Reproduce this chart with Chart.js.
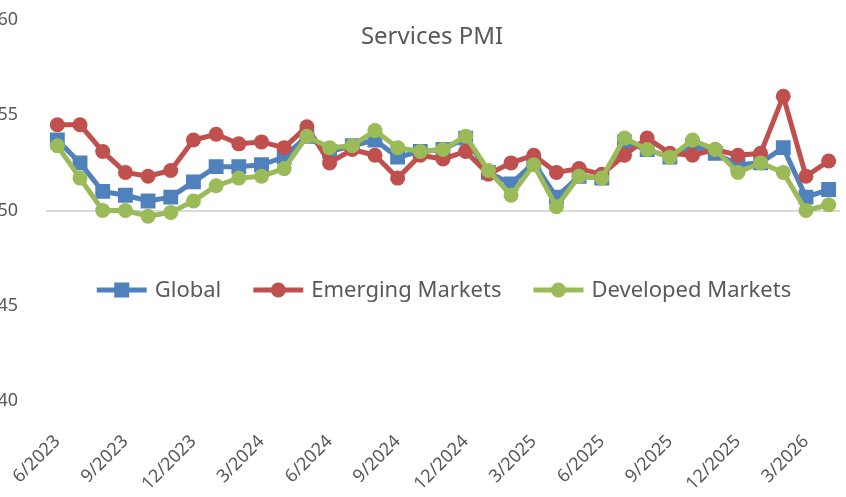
<!DOCTYPE html>
<html>
<head>
<meta charset="utf-8">
<script src="https://cdn.jsdelivr.net/npm/chart.js@4"></script>
<style>
  html, body { margin: 0; padding: 0; background: #fff; overflow: hidden; }
  /* canvas pushed a bit left so the y labels get clipped like the original */
  #wrap { position: absolute; left: -10px; top: 0; width: 856px; height: 497px; }
</style>
</head>
<body>
<div id="wrap"><canvas id="pmiChart"></canvas></div>
<script>
// data
const months = [
  "6/2023", "7/2023", "8/2023", "9/2023", "10/2023", "11/2023", "12/2023",
  "1/2024", "2/2024", "3/2024", "4/2024", "5/2024", "6/2024", "7/2024", "8/2024",
  "9/2024", "10/2024", "11/2024", "12/2024", "1/2025", "2/2025", "3/2025", "4/2025",
  "5/2025", "6/2025", "7/2025", "8/2025", "9/2025", "10/2025", "11/2025", "12/2025",
  "1/2026", "2/2026", "3/2026", "4/2026"
];

const globalPmi = [
  53.7, 52.5, 51.0, 50.8, 50.5, 50.7, 51.5, 52.3, 52.3, 52.4, 52.8, 53.9,
  53.1, 53.4, 53.7, 52.8, 53.1, 53.2, 53.8, 52.0, 51.4, 52.5, 50.7, 51.8,
  51.7, 53.6, 53.2, 52.8, 53.4, 53.0, 52.4, 52.5, 53.3, 50.7, 51.1
];

const emergingPmi = [
  54.5, 54.5, 53.1, 52.0, 51.8, 52.1, 53.7, 54.0, 53.5, 53.6, 53.3, 54.4,
  52.5, 53.2, 52.9, 51.7, 52.9, 52.7, 53.1, 51.9, 52.5, 52.9, 52.0, 52.2,
  51.9, 52.9, 53.8, 53.0, 52.9, 53.2, 52.9, 53.0, 56.0, 51.8, 52.6
];

const developedPmi = [
  53.4, 51.7, 50.0, 50.0, 49.7, 49.9, 50.5, 51.3, 51.7, 51.8, 52.2, 53.9,
  53.3, 53.4, 54.2, 53.3, 53.1, 53.2, 53.9, 52.1, 50.8, 52.4, 50.2, 51.8,
  51.7, 53.8, 53.2, 52.8, 53.7, 53.2, 52.0, 52.5, 52.0, 50.0, 50.3
];

const seriesNames = ["Global", "Emerging Markets", "Developed Markets"];
const yMin = 40;
const yMax = 60;
const yStep = 5;
const chartTitle = "Services PMI";

const BLUE = "#4F81BD";
const RED = "#C0504D";
const GREEN = "#9BBB59";
const TEXT = "#595959";
const FONT = "'Noto Sans', sans-serif";

// title + legend sit inside the plot area, so draw them by hand
const overlayPlugin = {
  id: "overlay",
  afterDraw(chart) {
    const ctx = chart.ctx;
    ctx.save();

    // title
    ctx.fillStyle = TEXT;
    ctx.font = "24px " + FONT;
    ctx.textAlign = "center";
    ctx.textBaseline = "middle";
    ctx.fillText(chartTitle, 442, 37);

    // legend
    const lineLen = 50;
    const gapText = 8;
    const gapItem = 32;
    ctx.font = "22px " + FONT;
    const items = chart.data.datasets.slice().sort((a, b) => a.legendIndex - b.legendIndex);
    const widths = items.map((ds) => lineLen + gapText + ctx.measureText(ds.label).width);
    const total = widths.reduce((s, w) => s + w, 0) + gapItem * (items.length - 1);
    let x = 454 - total / 2;
    const y = 290;
    items.forEach((ds, i) => {
      ctx.strokeStyle = ds.borderColor;
      ctx.lineWidth = 5;
      ctx.beginPath();
      ctx.moveTo(x, y);
      ctx.lineTo(x + lineLen, y);
      ctx.stroke();
      ctx.fillStyle = ds.borderColor;
      ctx.beginPath();
      if (ds.pointStyle === "rect") {
        ctx.rect(x + lineLen / 2 - 7.5, y - 7.5, 15, 15);
      } else {
        ctx.arc(x + lineLen / 2, y, 7.5, 0, Math.PI * 2);
      }
      ctx.fill();
      ctx.fillStyle = TEXT;
      ctx.textAlign = "left";
      ctx.fillText(ds.label, x + lineLen + gapText, y + 1);
      x += widths[i] + gapItem;
    });

    ctx.restore();
  },
};

function makeSeries(label, values, color, style, order, legendIndex) {
  return {
    label: label,
    data: values,
    borderColor: color,
    backgroundColor: color,
    borderWidth: 5,
    tension: 0,
    pointStyle: style,
    pointRadius: style === "rect" ? 10.5 : 7.5,
    pointBorderWidth: 0,
    pointBackgroundColor: color,
    order: order,
    legendIndex: legendIndex,
  };
}

const ctx = document.getElementById("pmiChart").getContext("2d");

new Chart(ctx, {
  type: "line",
  data: {
    labels: months,
    datasets: [
      makeSeries(seriesNames[0], globalPmi, BLUE, "rect", 3, 0),
      makeSeries(seriesNames[1], emergingPmi, RED, "circle", 2, 1),
      makeSeries(seriesNames[2], developedPmi, GREEN, "circle", 1, 2),
    ],
  },
  options: {
    responsive: true,
    maintainAspectRatio: false,
    animation: false,
    devicePixelRatio: 1,
    layout: { autoPadding: false, padding: { top: 20, right: 6, left: 0, bottom: 0 } },
    scales: {
      x: {
        offset: true,
        grid: { display: false },
        border: { display: false },
        ticks: {
          autoSkip: false,
          maxRotation: 45,
          minRotation: 45,
          padding: 22,
          color: TEXT,
          font: { family: FONT, size: 18 },
          // only every third month gets a label
          callback: (value, index) => (index % 3 === 0 ? months[index] : null),
        },
        afterFit: (scale) => { scale.height = 96; },
      },
      y: {
        min: yMin,
        max: yMax,
        border: { display: false },
        grid: {
          drawTicks: false,
          lineWidth: 2,
          color: (c) => (c.tick && c.tick.value === 50 ? "#D9D9D9" : "rgba(0,0,0,0)"),
        },
        ticks: {
          stepSize: yStep,
          padding: 28,
          color: TEXT,
          font: { family: FONT, size: 18 },
        },
        afterFit: (scale) => {
          scale.width = 56;
          // the big label padding would otherwise shrink the plot vertically
          scale.paddingTop = 0;
          scale.paddingBottom = 0;
        },
      },
    },
    plugins: {
      legend: { display: false },
      tooltip: { enabled: false },
    },
  },
  plugins: [overlayPlugin],
});
</script>
</body>
</html>
